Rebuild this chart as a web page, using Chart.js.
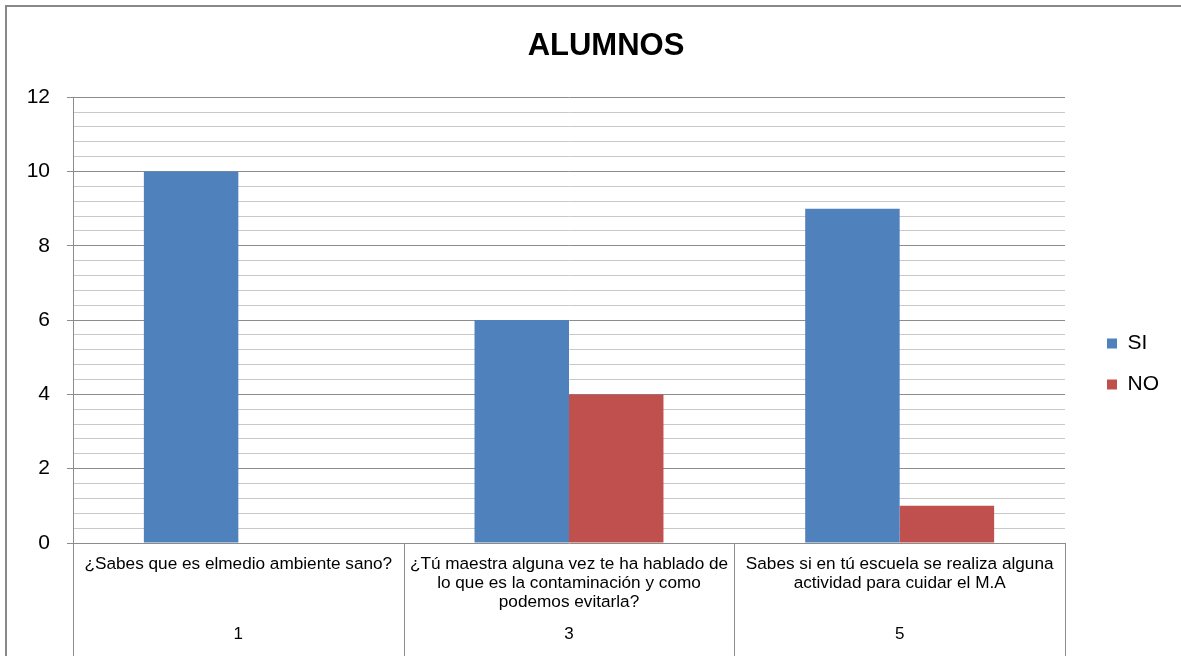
<!DOCTYPE html>
<html>
<head>
<meta charset="utf-8">
<script src="https://cdn.jsdelivr.net/npm/chart.js@4"></script>
<style>
  body { margin: 0; background: #fff; }
  canvas { display: block; }
</style>
</head>
<body>
<canvas id="myChart" width="1181" height="656"></canvas>
<script>
const preguntas = [
    ['¿Sabes que es elmedio ambiente sano?'],
    ['¿Tú maestra alguna vez te ha hablado de', 'lo que es la contaminación y como', 'podemos evitarla?'],
    ['Sabes si en tú escuela se realiza alguna', 'actividad para cuidar el M.A']
];
const numeros = ['1', '3', '5'];
const valoresSi = [10, 6, 9];
const valoresNo = [0, 4, 1];
const yEtiquetas = [0, 2, 4, 6, 8, 10, 12];
const yMin = 0;
const yMax = 12;
const pasoMenor = 0.4;

const fuente = "'Liberation Sans', Arial, sans-serif";
const gris = '#8c8c8c';
const grisClaro = '#c8c8c8';

const esMayor = v => yEtiquetas.some(t => Math.abs(t - v) < 1e-6);

// marco exterior, separadores bajo el eje x, ajuste de titulo y leyenda
const extras = {
    id: 'extras',
    afterLayout(chart) {
        const legend = chart.legend;
        legend.top += 36;
        legend.bottom += 36;
        const dx = (chart.chartArea.right + 42) - (legend.left + legend.options.labels.padding);
        legend.left += dx;
        legend.right += dx;
        const t = chart.titleBlock;
        const tx = 606 - (t.left + t.right) / 2;
        t.left += tx;
        t.right += tx;
    },
    afterDraw(chart) {
        const c = chart.ctx;
        const x = chart.scales.x;
        const n = chart.data.labels.length;
        const w = (x.right - x.left) / n;
        c.save();
        c.strokeStyle = gris;
        c.lineWidth = 1;
        c.beginPath();
        for (let i = 0; i <= n; i++) {
            const px = Math.round(x.left + i * w) + 0.5;
            c.moveTo(px, chart.chartArea.bottom);
            c.lineTo(px, chart.height);
        }
        c.stroke();
        c.strokeStyle = '#888';
        c.lineWidth = 2;
        c.beginPath();
        c.moveTo(6, chart.height);
        c.lineTo(6, 6);
        c.lineTo(chart.width, 6);
        c.stroke();
        c.restore();
    }
};

const ctx = document.getElementById('myChart').getContext('2d');

new Chart(ctx, {
    type: 'bar',
    data: {
        labels: preguntas,
        datasets: [{
            label: 'SI',
            data: valoresSi,
            backgroundColor: '#4f81bd'
        }, {
            label: 'NO',
            data: valoresNo,
            backgroundColor: '#c0504d'
        }]
    },
    options: {
        responsive: false,
        devicePixelRatio: 1,
        animation: false,
        layout: { padding: { left: 20, right: 36, top: 0, bottom: 0 } },
        datasets: {
            bar: { barPercentage: 1, categoryPercentage: 2 / 3.5 }
        },
        scales: {
            x: {
                weight: 0,
                grid: { display: false, drawTicks: false },
                border: { display: false },
                ticks: {
                    font: { family: fuente, size: 17.2, lineHeight: 1.1 },
                    color: '#000',
                    padding: 12,
                    maxRotation: 0,
                    autoSkip: false
                },
                afterFit(scale) { scale.height = 75; }
            },
            x2: {
                type: 'category',
                position: 'bottom',
                weight: 1,
                labels: numeros,
                grid: { display: false, drawTicks: false },
                border: { display: false },
                ticks: {
                    font: { family: fuente, size: 17 },
                    color: '#000',
                    padding: 6
                },
                afterFit(scale) { scale.height = 38; }
            },
            y: {
                min: yMin,
                max: yMax,
                border: { display: true, color: gris },
                grid: {
                    color: c => esMayor(c.tick.value) ? gris : grisClaro,
                    tickColor: c => esMayor(c.tick.value) ? gris : 'rgba(0,0,0,0)',
                    tickLength: 6
                },
                ticks: {
                    stepSize: pasoMenor,
                    autoSkip: false,
                    padding: 17,
                    color: '#000',
                    font: { family: fuente, size: 21 },
                    callback: v => esMayor(v) ? String(Math.round(v)) : ''
                },
                afterFit(scale) { scale.width = 53; }
            }
        },
        plugins: {
            title: {
                display: true,
                text: 'ALUMNOS',
                color: '#000',
                font: { family: fuente, size: 31, weight: 'bold' },
                padding: { top: 28, bottom: 32 }
            },
            legend: {
                position: 'right',
                maxWidth: 80,
                labels: {
                    boxWidth: 10,
                    boxHeight: 10,
                    padding: 20,
                    color: '#000',
                    font: { family: fuente, size: 21 }
                }
            },
            tooltip: { enabled: false }
        }
    },
    plugins: [extras]
});
</script>
</body>
</html>
